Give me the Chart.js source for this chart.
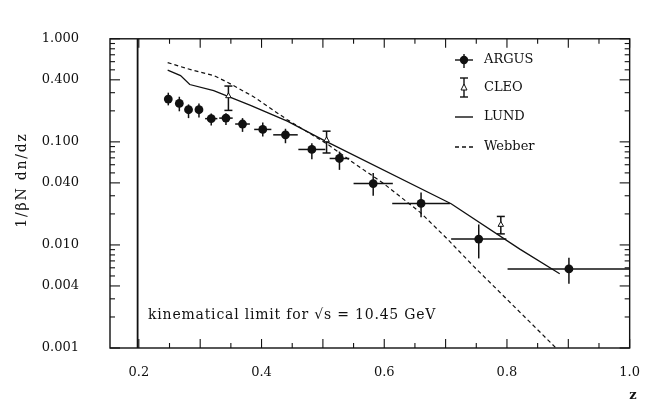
<!DOCTYPE html>
<html>
<head>
<meta charset="utf-8">
<script src="https://cdn.jsdelivr.net/npm/chart.js@4.4.0/dist/chart.umd.min.js"></script>
<style>
html,body{margin:0;padding:0;background:#fff;}
</style>
</head>
<body>
<canvas id="c" width="657" height="406"></canvas>
<script>
// ARGUS points: z, value, half width in z, low/high of the vertical bar
const argusZ = [0.248, 0.266, 0.281, 0.298, 0.318, 0.342, 0.369, 0.402, 0.439, 0.482, 0.527, 0.582, 0.660, 0.754, 0.901];
const argusY = [0.26, 0.236, 0.205, 0.205, 0.168, 0.17, 0.149, 0.132, 0.117, 0.0844, 0.069, 0.0394, 0.0253, 0.0114, 0.00585];
const argusZErr = [0.006, 0.006, 0.006, 0.006, 0.01, 0.011, 0.012, 0.014, 0.02, 0.022, 0.016, 0.032, 0.047, 0.045, 0.1];
const argusYLow = [0.226, 0.198, 0.170, 0.172, 0.144, 0.146, 0.125, 0.113, 0.097, 0.068, 0.0535, 0.030, 0.0186, 0.0074, 0.0042];
const argusYHigh = [0.30, 0.274, 0.231, 0.235, 0.188, 0.19, 0.170, 0.154, 0.134, 0.097, 0.0805, 0.050, 0.0323, 0.0158, 0.0075];

const cleoZ = [0.346, 0.506, 0.790];
const cleoY = [0.278, 0.104, 0.0157];
const cleoYLow = [0.202, 0.078, 0.0128];
const cleoYHigh = [0.348, 0.127, 0.0189];

const lundZ = [0.247, 0.268, 0.283, 0.322, 0.382, 0.442, 0.501, 0.709, 0.821, 0.886];
const lundY = [0.496, 0.44, 0.36, 0.314, 0.226, 0.159, 0.104, 0.0251, 0.0091, 0.00525];

const webberZ = [0.247, 0.279, 0.322, 0.344, 0.387, 0.442, 0.507, 0.545, 0.599, 0.659, 0.702, 0.745, 0.88];
const webberY = [0.588, 0.513, 0.44, 0.38, 0.274, 0.164, 0.0954, 0.0656, 0.0394, 0.0206, 0.01156, 0.00626, 0.001];

const kinLimit = 0.198;
const yTickValues = [1, 0.4, 0.1, 0.04, 0.01, 0.004, 0.001];
const xTickValues = [0.2, 0.4, 0.6, 0.8, 1.0];

const FONT = "'DejaVu Serif', serif";

function pts(xs, ys) { return xs.map(function(x, i){ return {x: x, y: ys[i]}; }); }
function seg(ctx, x1, y1, x2, y2) { ctx.beginPath(); ctx.moveTo(x1, y1); ctx.lineTo(x2, y2); ctx.stroke(); }

var decor = {
	id: 'decor',
	beforeDatasetsDraw: function(chart) {
		var ctx = chart.ctx, sx = chart.scales.x, sy = chart.scales.y;
		ctx.save();
		ctx.strokeStyle = '#111';
		ctx.lineWidth = 1.5;
		argusZ.forEach(function(z, i) {
			var px = sx.getPixelForValue(z), py = sy.getPixelForValue(argusY[i]);
			seg(ctx, sx.getPixelForValue(z - argusZErr[i]), py, sx.getPixelForValue(Math.min(1, z + argusZErr[i])), py);
			seg(ctx, px, sy.getPixelForValue(argusYHigh[i]), px, sy.getPixelForValue(argusYLow[i]));
		});
		cleoZ.forEach(function(z, i) {
			var px = sx.getPixelForValue(z), t = sy.getPixelForValue(cleoYHigh[i]), b = sy.getPixelForValue(cleoYLow[i]);
			seg(ctx, px, t, px, b);
			seg(ctx, px - 4, t, px + 4, t);
			seg(ctx, px - 4, b, px + 4, b);
		});
		ctx.restore();
	},
	afterDraw: function(chart) {
		var ctx = chart.ctx, a = chart.chartArea, sx = chart.scales.x, sy = chart.scales.y;
		ctx.save();
		ctx.strokeStyle = '#111';
		ctx.lineWidth = 1.4;
		ctx.strokeRect(a.left, a.top, a.right - a.left, a.bottom - a.top);
		ctx.lineWidth = 1.1;
		// y ticks, both sides
		for (var k = -3; k <= 0; k++) {
			for (var m = 1; m <= 9; m++) {
				var v = m * Math.pow(10, k);
				if (v > 1.0001) break;
				var major = yTickValues.some(function(t){ return Math.abs(t - v) < 1e-9; });
				var len = major ? 10 : 5;
				var py = sy.getPixelForValue(v);
				seg(ctx, a.left, py, a.left + len, py);
				seg(ctx, a.right - len, py, a.right, py);
			}
		}
		// x ticks, bottom and top
		for (var j = 4; j <= 20; j++) {
			var xv = j * 0.05;
			var len2 = (j % 2 === 0) ? 9 : 5;
			var px = sx.getPixelForValue(xv);
			seg(ctx, px, a.bottom, px, a.bottom - len2);
			seg(ctx, px, a.top, px, a.top + len2);
		}
		// legend
		ctx.fillStyle = '#111';
		ctx.font = '13px ' + FONT;
		ctx.textBaseline = 'middle';
		ctx.textAlign = 'left';
		ctx.lineWidth = 1.4;
		var lx = 464, tx = 484;
		seg(ctx, lx - 9, 60, lx + 9, 60);
		seg(ctx, lx, 54, lx, 68);
		ctx.beginPath(); ctx.arc(lx, 60, 4.2, 0, Math.PI * 2); ctx.fill();
		ctx.fillText('ARGUS', tx, 60);
		seg(ctx, lx, 78, lx, 97);
		seg(ctx, lx - 4, 78, lx + 4, 78);
		seg(ctx, lx - 4, 97, lx + 4, 97);
		ctx.fillStyle = '#fff';
		ctx.lineWidth = 1;
		ctx.beginPath(); ctx.moveTo(lx, 84); ctx.lineTo(lx + 3, 90); ctx.lineTo(lx - 3, 90); ctx.closePath(); ctx.fill(); ctx.stroke();
		ctx.lineWidth = 1.4;
		ctx.fillStyle = '#111';
		ctx.fillText('CLEO', tx, 88);
		seg(ctx, lx - 9, 117, lx + 9, 117);
		ctx.fillText('LUND', tx, 117);
		ctx.setLineDash([4, 3]);
		seg(ctx, lx - 9, 147, lx + 9, 147);
		ctx.setLineDash([]);
		ctx.fillText('Webber', tx, 147);
		ctx.font = '14px ' + FONT;
		ctx.letterSpacing = '0.8px';
		ctx.fillText('kinematical limit for \u221As = 10.45 GeV', 148, 315);
		// axis titles
		ctx.font = 'bold 13px ' + FONT;
		ctx.letterSpacing = '0px';
		ctx.textAlign = 'center';
		ctx.fillText('z', 633, 396);
		ctx.font = '14px ' + FONT;
		ctx.letterSpacing = '1.8px';
		ctx.translate(22, 180);
		ctx.rotate(-Math.PI / 2);
		ctx.fillText('1/\u03B2N dn/dz', 0, 0);
		ctx.restore();
	}
};

new Chart(document.getElementById('c'), {
	type: 'scatter',
	data: {
		datasets: [
			{ label: 'ARGUS', data: pts(argusZ, argusY), pointStyle: 'circle', pointRadius: 4.4, backgroundColor: '#111', borderColor: '#111', borderWidth: 0 },
			{ label: 'CLEO', data: pts(cleoZ, cleoY), pointStyle: 'triangle', pointRadius: 3.2, backgroundColor: '#fff', borderColor: '#111', borderWidth: 1 },
			{ label: 'LUND', type: 'line', data: pts(lundZ, lundY), borderColor: '#111', borderWidth: 1.3, pointRadius: 0, tension: 0, fill: false },
			{ label: 'Webber', type: 'line', data: pts(webberZ, webberY), borderColor: '#111', borderWidth: 1.2, borderDash: [4, 3], pointRadius: 0, tension: 0, fill: false },
			{ label: 'limit', type: 'line', data: [{x: kinLimit, y: 0.001}, {x: kinLimit, y: 1}], borderColor: '#111', borderWidth: 1.8, pointRadius: 0 }
		]
	},
	options: {
		responsive: false,
		animation: false,
		devicePixelRatio: 1,
		layout: { padding: { top: 10, right: 27, left: 0, bottom: 0 } },
		plugins: { legend: { display: false }, tooltip: { enabled: false } },
		scales: {
			x: {
				type: 'linear', min: 0.153, max: 1.0,
				grid: { display: false, drawTicks: false },
				border: { display: false },
				afterBuildTicks: function(s){ s.ticks = xTickValues.map(function(v){ return {value: v}; }); },
				afterFit: function(s){ s.height = 58; },
				ticks: { padding: 17, color: '#111', font: { family: FONT, size: 13 }, maxRotation: 0,
					callback: function(v){ return Number(v).toFixed(1); } }
			},
			y: {
				type: 'logarithmic', min: 0.001, max: 1,
				grid: { display: false, drawTicks: false },
				border: { display: false },
				afterBuildTicks: function(s){ s.ticks = yTickValues.map(function(v){ return {value: v}; }); },
				afterFit: function(s){ s.width = 110; },
				ticks: { padding: 31, color: '#111', font: { family: FONT, size: 13 },
					callback: function(v){ return Number(v).toFixed(3); } }
			}
		}
	},
	plugins: [decor]
});
</script>
</body>
</html>
